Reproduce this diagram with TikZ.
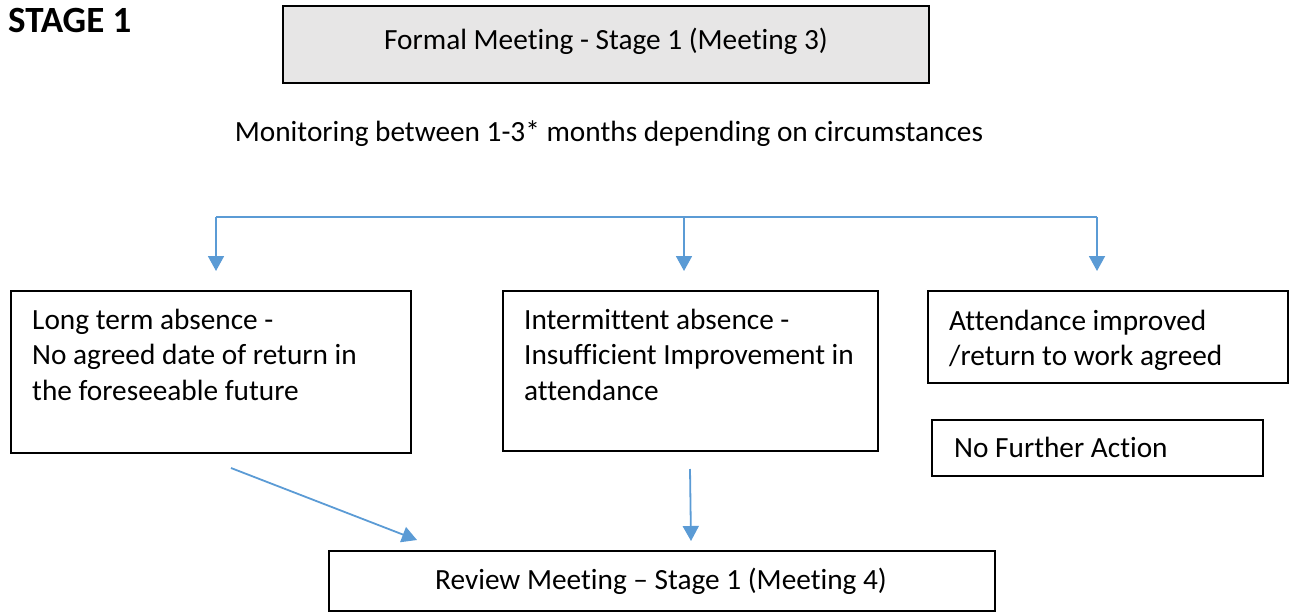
\documentclass[tikz,border=0pt]{standalone}
\usepackage{fontspec}
\setmainfont{Carlito}[Ligatures={NoCommon}]
\usetikzlibrary{arrows.meta}
\definecolor{arrowblue}{HTML}{5B9BD5}
\definecolor{boxgray}{HTML}{E7E6E6}
\begin{document}
\begin{tikzpicture}[x=1pt,y=-1pt,
  box/.style={draw=black,line width=1.3pt,inner sep=0pt},
  txt/.style={font=\fontsize{29.3}{35.5}\selectfont,inner sep=0pt},
  mtxt/.style={txt,align=left,anchor=north west},
  conn/.style={draw=arrowblue,line width=1.8pt},
  arr/.style={conn,-{Triangle[width=16pt,length=15pt]}}]
\useasboundingbox (0,0) rectangle (1295,613);

% title
\node[font=\bfseries\fontsize{37}{44}\selectfont,anchor=base west,inner sep=0pt] (stage) at (8,32) {STAGE 1};

% top box
\node[box,fill=boxgray,minimum width=646pt,minimum height=77pt] (top) at (606,44.5) {};
\node[txt,anchor=base] (toptext) at (606,49) {Formal Meeting - Stage 1 (Meeting 3)};

\node[txt,anchor=base] (mon) at (609,141) {Monitoring between 1-3* months depending on circumstances};

% boxes
\node[box,minimum width=400pt,minimum height=162pt] (b1) at (211,372) {};
\node[box,minimum width=375pt,minimum height=160pt] (b2) at (690.5,371) {};
\node[box,minimum width=360pt,minimum height=92pt] (b3) at (1108,337) {};
\node[box,minimum width=331pt,minimum height=56pt] (b4) at (1097.5,448) {};
\node[box,minimum width=666pt,minimum height=60pt] (rev) at (662,581) {};

\node[mtxt] (t1) at (32,304) {\strut Long term absence -\\No agreed date of return in\\the foreseeable future};
\node[mtxt] (t2) at (524,304) {\strut Intermittent absence -\\Insufficient Improvement in\\attendance};
\node[mtxt] (t3) at (949,305) {\strut Attendance improved\\/return to work agreed};
\node[txt,anchor=base west] (t4) at (954,457) {No Further Action};
\node[txt,anchor=base] (revtext) at (661,589) {Review Meeting – Stage 1 (Meeting 4)};

% connectors
\coordinate (busL) at (216,217);
\coordinate (busM) at (684,217);
\coordinate (busR) at (1097,217);
\coordinate (tip1) at (216,271);
\coordinate (tip2) at (684,271);
\coordinate (tip3) at (1097,271);
\coordinate (d1s) at (231,468);
\coordinate (d1e) at (417,540);
\coordinate (d2s) at (690,469);
\coordinate (d2e) at (691,541);

\draw[conn] (busL) -- (busR);
\draw[arr] (busL) -- (tip1);
\draw[arr] (busM) -- (tip2);
\draw[arr] (busR) -- (tip3);
\draw[arr] (d1s) -- (d1e);
\draw[arr] (d2s) -- (d2e);
\end{tikzpicture}
\end{document}
